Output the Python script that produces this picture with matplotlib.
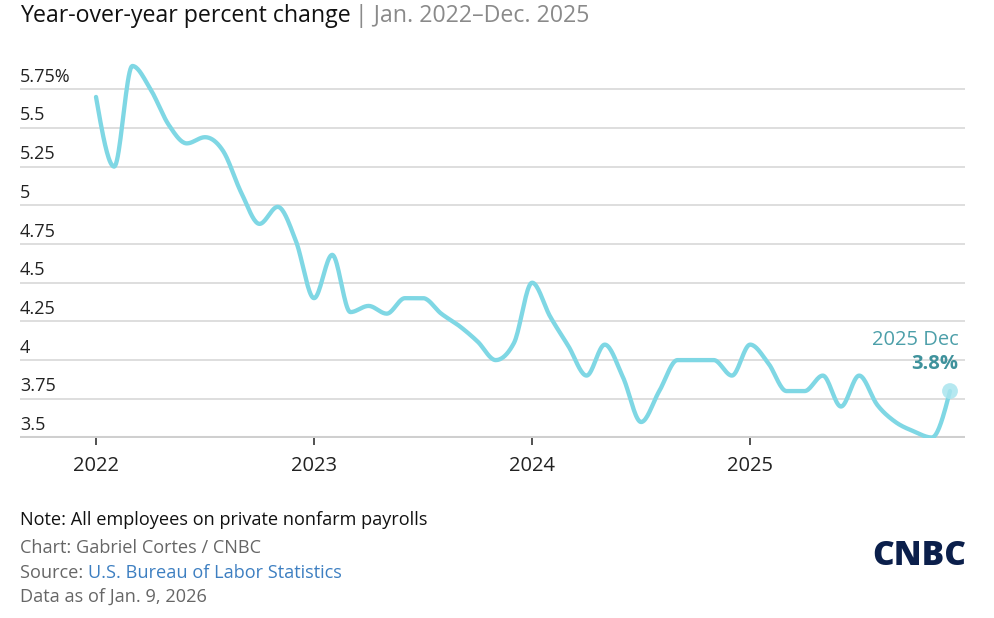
import numpy as np
import matplotlib.pyplot as plt

plt.rcParams['font.family'] = ['Open Sans', 'DejaVu Sans']

# Private payrolls, year-over-year % change, Jan 2022 - Dec 2025
months = list(range(48))
values = [
    5.70, 5.25, 5.90, 5.75, 5.52, 5.40, 5.44, 5.35, 5.08, 4.88, 4.99, 4.77,
    4.40, 4.68, 4.31, 4.35, 4.30, 4.40, 4.40, 4.30, 4.22, 4.12, 4.00, 4.11,
    4.50, 4.28, 4.09, 3.90, 4.10, 3.89, 3.60, 3.80, 4.00, 4.00, 4.00, 3.90,
    4.10, 3.98, 3.80, 3.80, 3.90, 3.70, 3.90, 3.71, 3.60, 3.54, 3.50, 3.80,
]
year_ticks = [0, 12, 24, 36]
year_labels = ['2022', '2023', '2024', '2025']
y_ticks = [3.5, 3.75, 4, 4.25, 4.5, 4.75, 5, 5.25, 5.5, 5.75]
y_labels = ['3.5', '3.75', '4', '4.25', '4.5', '4.75', '5', '5.25', '5.5', '5.75%']

LINE = '#7fd7e4'
TEAL = '#4c9fa9'


def monotone_x(x, y, n=20):
    """Monotone cubic curve (like d3.curveMonotoneX) through the points."""
    x = np.asarray(x, float)
    y = np.asarray(y, float)
    h = np.diff(x)
    s = np.diff(y) / h
    t = np.zeros(len(x))
    for i in range(1, len(x) - 1):
        p = (s[i - 1] * h[i] + s[i] * h[i - 1]) / (h[i - 1] + h[i])
        t[i] = (np.sign(s[i - 1]) + np.sign(s[i])) * min(abs(s[i - 1]), abs(s[i]), 0.5 * abs(p))
    t[0] = (3 * s[0] - t[1]) / 2
    t[-1] = (3 * s[-1] - t[-2]) / 2
    xs, ys = [], []
    for i in range(len(x) - 1):
        u = np.linspace(0, 1, n, endpoint=False)
        h00 = 2 * u**3 - 3 * u**2 + 1
        h10 = u**3 - 2 * u**2 + u
        h01 = -2 * u**3 + 3 * u**2
        h11 = u**3 - u**2
        xs.append(x[i] + u * h[i])
        ys.append(h00 * y[i] + h10 * h[i] * t[i] + h01 * y[i + 1] + h11 * h[i] * t[i + 1])
    xs.append([x[-1]])
    ys.append([y[-1]])
    return np.concatenate(xs), np.concatenate(ys)


fig = plt.figure(figsize=(9.94, 6.18), dpi=100)
W, H = 994, 618
# axes spans gridline extent: x 20..965 px, y 55..437.5 px
ax = fig.add_axes([20 / W, 1 - 437.5 / H, 945 / W, (437.5 - 55) / H])

px_month = (950 - 96) / 47
ax.set_xlim(-(96 - 20) / px_month, 47 + (965 - 950) / px_month)
ax.set_ylim(3.5, 3.5 + (437.5 - 55) / 154.8)

for v in y_ticks[1:]:
    ax.axhline(v, color='#d4d4d4', lw=1.1, zorder=1)
ax.axhline(3.5, color='#cfcfcf', lw=2.2, zorder=1)

for v, lab in zip(y_ticks, y_labels):
    ax.annotate(lab, xy=(0, v), xycoords=('axes fraction', 'data'),
                xytext=(0, 2.5), textcoords='offset points',
                ha='left', va='bottom', fontsize=13, color='#222222')

sx, sy = monotone_x(months, values)
ax.plot(sx, sy, color=LINE, lw=3.1, solid_capstyle='round', zorder=3)
ax.scatter([months[-1]], [values[-1]], s=130, color='#a9e5ee', alpha=0.85,
           edgecolors='none', zorder=4)

ax.annotate('2025 Dec', xy=(months[-1], values[-1]), xytext=(6, 37),
            textcoords='offset points', ha='right', va='center',
            fontsize=14.5, color=TEAL)
ax.annotate('3.8%', xy=(months[-1], values[-1]), xytext=(6, 19.5),
            textcoords='offset points', ha='right', va='center',
            fontsize=14.5, fontweight='bold', color='#3f929c')

ax.set_xticks(year_ticks)
ax.set_xticklabels(year_labels, fontsize=14.5, color='#222222')
ax.tick_params(axis='x', length=5, width=1.2, color='#333333', pad=8)
ax.set_yticks([])
for sp in ax.spines.values():
    sp.set_visible(False)

# title
t1 = fig.text(20 / W, 1 - 16 / H, 'Year-over-year percent change', fontsize=16.7,
              color='#111111', va='center', ha='left')
fig.canvas.draw()
bb = t1.get_window_extent()
fig.text(bb.x1 / W + 0.004, 1 - 16 / H, '| Jan. 2022\u2013Dec. 2025', fontsize=16.7,
         color='#8a8a8a', va='center', ha='left')

# footer
FS = 13.1
fig.text(20 / W, 1 - 520 / H, 'Note: All employees on private nonfarm payrolls',
         fontsize=FS, color='#111111', va='center')
fig.text(20 / W, 1 - 548 / H, 'Chart: Gabriel Cortes / CNBC',
         fontsize=FS, color='#666666', va='center')
s1 = fig.text(20 / W, 1 - 573 / H, 'Source: ', fontsize=FS, color='#666666', va='center')
fig.canvas.draw()
bb = s1.get_window_extent()
fig.text(bb.x1 / W, 1 - 573 / H, 'U.S. Bureau of Labor Statistics',
         fontsize=FS, color='#3d7fc1', va='center')
fig.text(20 / W, 1 - 597 / H, 'Data as of Jan. 9, 2026',
         fontsize=FS, color='#666666', va='center')

# logo
fig.text(966 / W, 1 - 556 / H, 'CNBC', fontsize=24, fontweight='heavy',
         color='#0b1f4b', ha='right', va='center')

fig.savefig('out.png', dpi=100)
